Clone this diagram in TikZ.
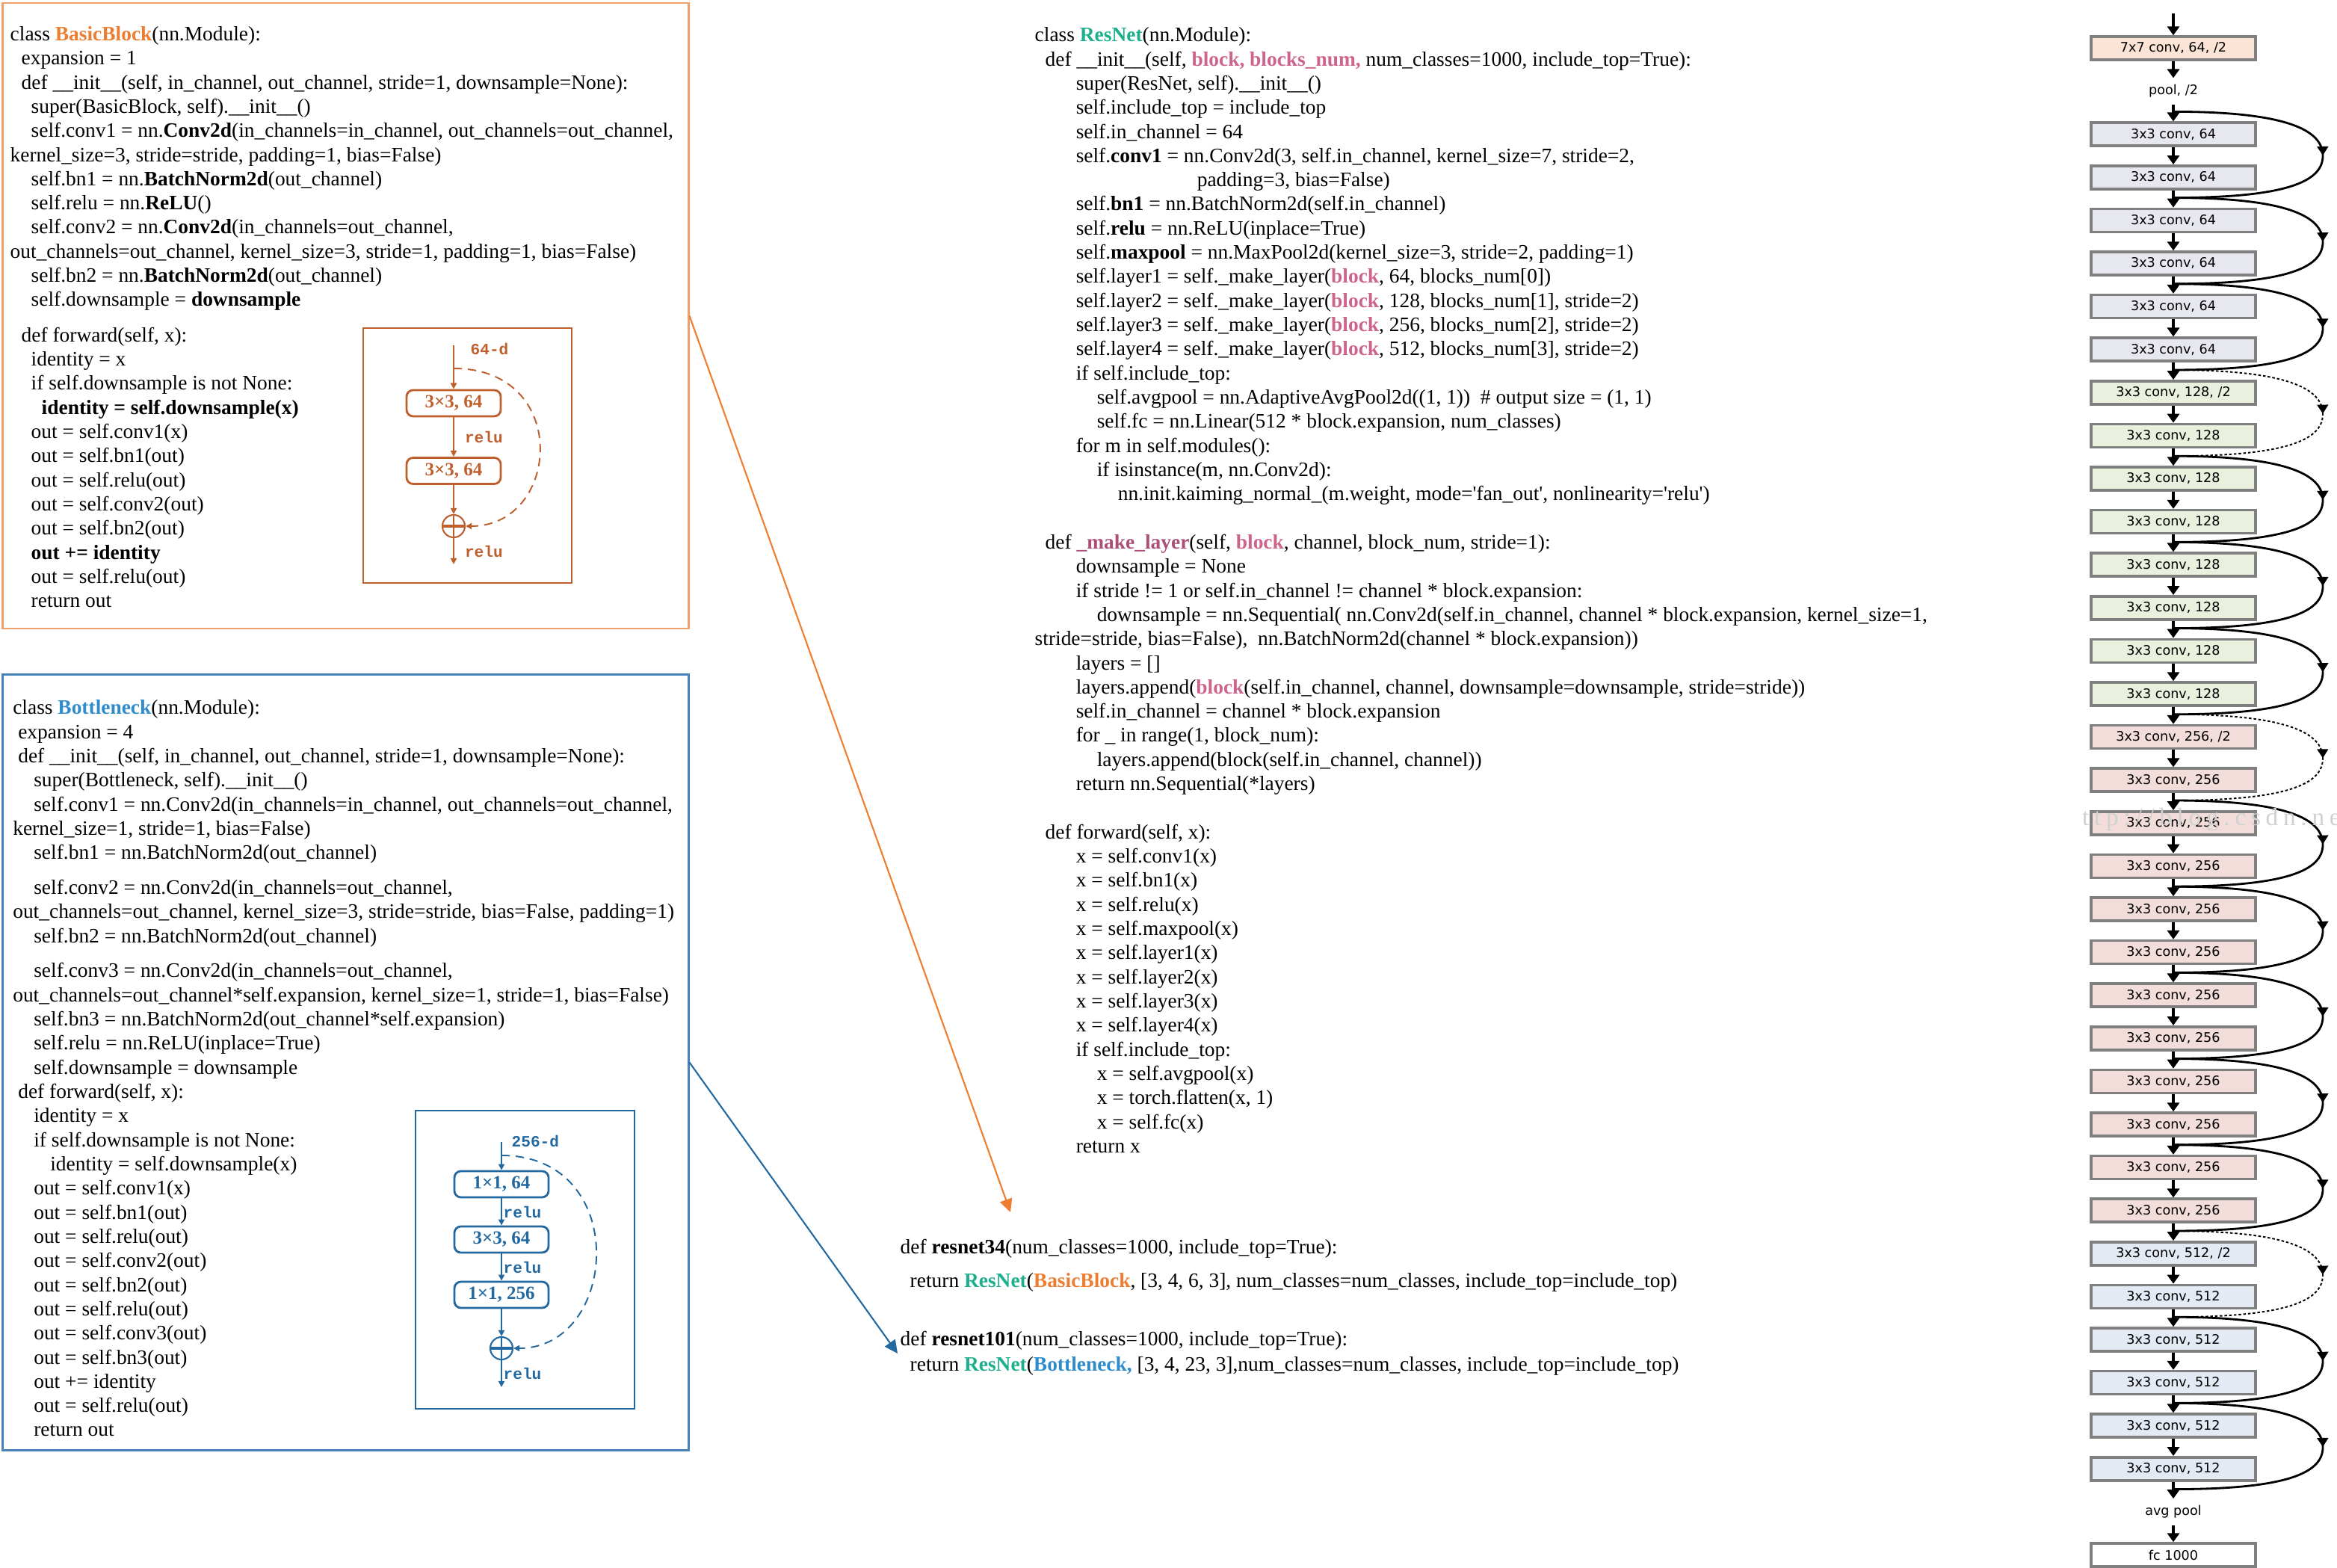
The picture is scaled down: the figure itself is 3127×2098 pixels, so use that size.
\documentclass[tikz,border=0pt]{standalone}
\usepackage{fontspec}
\setmainfont{Liberation Serif}
\newfontfamily\netfont{DejaVu Sans}
\newfontfamily\typefont{Liberation Mono}
\usetikzlibrary{arrows.meta,calc,decorations.markings}

\definecolor{bborange}{RGB}{237,125,49}
\definecolor{bbframe}{RGB}{242,160,105}
\definecolor{bbink}{RGB}{190,95,45}
\definecolor{bnblue}{RGB}{46,140,205}
\definecolor{bnframe}{RGB}{70,130,185}
\definecolor{bnink}{RGB}{35,105,160}
\definecolor{resteal}{RGB}{30,175,140}
\definecolor{blockpink}{RGB}{205,100,140}
\definecolor{makepink}{RGB}{170,80,120}
\definecolor{netgray}{RGB}{128,128,128}
\definecolor{fillA}{RGB}{251,228,213}
\definecolor{fillB}{RGB}{231,231,239}
\definecolor{fillC}{RGB}{233,240,222}
\definecolor{fillD}{RGB}{242,221,219}
\definecolor{fillE}{RGB}{227,234,243}

\newlength{\pxu}\setlength{\pxu}{0.1mm}
\newcommand{\ind}[1]{\hspace*{#1\pxu}}
\newcommand{\pk}[1]{\textcolor{blockpink}{\textbf{#1}}}
\newcommand{\codesize}{\fontsize{7.8pt}{9.19pt}\selectfont}
\newcommand{\netsize}{\netfont\fontsize{5pt}{6pt}\selectfont}

\tikzset{
  code/.style={font=\codesize, align=left, anchor=north west, inner sep=0pt},
  flat/.style={font=\codesize, anchor=base west, inner sep=0pt},
  panel/.style={line width=0.7pt, inner sep=0pt},
  layerbox/.style={draw=netgray, line width=1pt, minimum width=220\pxu, minimum height=31\pxu, inner sep=0pt, font=\netsize},
  layertext/.style={minimum height=34\pxu, inner sep=0pt, font=\netsize},
  flow/.style={line width=0.9pt, -{Triangle[length=3.4pt,width=4.6pt]}},
  skip/.style={line width=0.8pt, postaction={decorate},
    decoration={markings, mark=at position 0.5 with {\arrow{Triangle[length=3.4pt,width=4.2pt]}}}},
  skipdash/.style={skip, line width=0.55pt, dash pattern=on 1pt off 0.8pt},
  conv/.style={draw, rounded corners=2.5pt, line width=0.8pt, minimum width=126\pxu, minimum height=35\pxu, inner sep=0pt, font=\bfseries\fontsize{7.1pt}{8pt}\selectfont},
  sum/.style={draw, circle, line width=0.6pt, minimum size=30\pxu, inner sep=0pt},
  tag/.style={anchor=west, inner sep=0pt, font=\typefont\bfseries\fontsize{6pt}{7pt}\selectfont},
  pointer/.style={line width=0.6pt, -{Triangle[length=5pt,width=4.8pt]}},
}

\begin{document}
\begin{tikzpicture}[x=0.01cm, y=-0.01cm]
\useasboundingbox (0,0) rectangle (3127,2098);

% panels
\node[panel, draw=bbframe, minimum width=917\pxu, minimum height=837\pxu] (basicframe) at (462.5,422.5) {};
\node[panel, draw=bnframe, minimum width=917\pxu, minimum height=1037\pxu] (bottleframe) at (462.5,1421.5) {};

% BasicBlock code
\node[code] (basiccode) at (13,34.7) {%
class \textcolor{bborange}{\textbf{BasicBlock}}(nn.Module):\\
\ind{15}expansion = 1\\
\ind{15}def \_\_init\_\_(self, in\_channel, out\_channel, stride=1, downsample=None):\\
\ind{28}super(BasicBlock, self).\_\_init\_\_()\\
\ind{28}self.conv1 = nn.\textbf{Conv2d}(in\_channels=in\_channel, out\_channels=out\_channel,\\
kernel\_size=3, stride=stride, padding=1, bias=False)\\
\ind{28}self.bn1 = nn.\textbf{BatchNorm2d}(out\_channel)\\
\ind{28}self.relu = nn.\textbf{ReLU}()\\
\ind{28}self.conv2 = nn.\textbf{Conv2d}(in\_channels=out\_channel,\\
out\_channels=out\_channel, kernel\_size=3, stride=1, padding=1, bias=False)\\
\ind{28}self.bn2 = nn.\textbf{BatchNorm2d}(out\_channel)\\
\ind{28}self.downsample = \textbf{downsample}\\[15\pxu]
\ind{15}def forward(self, x):\\
\ind{28}identity = x\\
\ind{28}if self.downsample is not None:\\
\ind{42}\textbf{identity = self.downsample(x)}\\
\ind{28}out = self.conv1(x)\\
\ind{28}out = self.bn1(out)\\
\ind{28}out = self.relu(out)\\
\ind{28}out = self.conv2(out)\\
\ind{28}out = self.bn2(out)\\
\ind{28}\textbf{out += identity}\\
\ind{28}out = self.relu(out)\\
\ind{28}return out};

% BasicBlock sketch
\draw[bbink, line width=0.8pt] (486,439) rectangle (765,780);
\begin{scope}[bbink]
\coordinate (bin) at (607,462);
\coordinate (bsplit) at (607,493);
\coordinate (bout) at (607,755);
\node[conv, text=bbink] (bc1) at (607,539.5) {3×3, 64};
\node[conv, text=bbink] (bc2) at (607,630) {3×3, 64};
\node[sum] (bsum) at (607,704) {};
\node[tag, text=bbink] (bdim) at (629,467) {64-d};
\draw[line width=0.55pt, -{Triangle[length=2.3pt,width=2.3pt]}] (bin) -- (bc1);
\draw[line width=0.55pt, -{Triangle[length=2.3pt,width=2.3pt]}] (bc1) -- node[tag, text=bbink, xshift=4pt] (brelu1) {relu} (bc2);
\draw[line width=0.55pt, -{Triangle[length=2.3pt,width=2.3pt]}] (bc2) -- (bsum);
\draw[line width=0.55pt, -{Triangle[length=2.3pt,width=2.3pt]}] (bsum) -- node[tag, text=bbink, xshift=4pt] (brelu2) {relu} (bout);
\draw[line width=0.55pt, dash pattern=on 3.2pt off 2.2pt, -{Triangle[length=2.3pt,width=2.3pt]}] (bsplit) .. controls (765,493) and (750,704) .. (bsum.east);
\draw[line width=1.2pt] (bsum.west) -- (bsum.east);
\draw[line width=0.7pt] (bsum.north) -- (bsum.south);
\end{scope}

% Bottleneck code
\node[code] (bottlecode) at (16.6,936) {%
class \textcolor{bnblue}{\textbf{Bottleneck}}(nn.Module):\\
\ind{7}expansion = 4\\
\ind{7}def \_\_init\_\_(self, in\_channel, out\_channel, stride=1, downsample=None):\\
\ind{28}super(Bottleneck, self).\_\_init\_\_()\\
\ind{28}self.conv1 = nn.Conv2d(in\_channels=in\_channel, out\_channels=out\_channel,\\
kernel\_size=1, stride=1, bias=False)\\
\ind{28}self.bn1 = nn.BatchNorm2d(out\_channel)\\[14.5\pxu]
\ind{28}self.conv2 = nn.Conv2d(in\_channels=out\_channel,\\
out\_channels=out\_channel, kernel\_size=3, stride=stride, bias=False, padding=1)\\
\ind{28}self.bn2 = nn.BatchNorm2d(out\_channel)\\[14.5\pxu]
\ind{28}self.conv3 = nn.Conv2d(in\_channels=out\_channel,\\
out\_channels=out\_channel*self.expansion, kernel\_size=1, stride=1, bias=False)\\
\ind{28}self.bn3 = nn.BatchNorm2d(out\_channel*self.expansion)\\
\ind{28}self.relu = nn.ReLU(inplace=True)\\
\ind{28}self.downsample = downsample\\
\ind{7}def forward(self, x):\\
\ind{28}identity = x\\
\ind{28}if self.downsample is not None:\\
\ind{50}identity = self.downsample(x)\\
\ind{28}out = self.conv1(x)\\
\ind{28}out = self.bn1(out)\\
\ind{28}out = self.relu(out)\\
\ind{28}out = self.conv2(out)\\
\ind{28}out = self.bn2(out)\\
\ind{28}out = self.relu(out)\\
\ind{28}out = self.conv3(out)\\
\ind{28}out = self.bn3(out)\\
\ind{28}out += identity\\
\ind{28}out = self.relu(out)\\
\ind{28}return out};

% Bottleneck sketch
\draw[bnink, line width=0.8pt] (556,1486) rectangle (849,1885);
\begin{scope}[bnink]
\coordinate (tin) at (671,1528);
\coordinate (tsplit) at (671,1546);
\coordinate (tout) at (671,1856);
\node[conv, text=bnink] (tc1) at (671,1584.5) {1×1, 64};
\node[conv, text=bnink] (tc2) at (671,1658.5) {3×3, 64};
\node[conv, text=bnink] (tc3) at (671,1732.5) {1×1, 256};
\node[sum] (tsum) at (671,1804) {};
\node[tag, text=bnink] (tdim) at (684,1527) {256-d};
\draw[line width=0.55pt, -{Triangle[length=2.3pt,width=2.3pt]}] (tin) -- (tc1);
\draw[line width=0.55pt, -{Triangle[length=2.3pt,width=2.3pt]}] (tc1) -- node[tag, text=bnink, xshift=0.5pt] (trelu1) {relu} (tc2);
\draw[line width=0.55pt, -{Triangle[length=2.3pt,width=2.3pt]}] (tc2) -- node[tag, text=bnink, xshift=0.5pt] (trelu2) {relu} (tc3);
\draw[line width=0.55pt, -{Triangle[length=2.3pt,width=2.3pt]}] (tc3) -- (tsum);
\draw[line width=0.55pt, -{Triangle[length=2.3pt,width=2.3pt]}] (tsum) -- node[tag, text=bnink, xshift=0.5pt] (trelu3) {relu} (tout);
\draw[line width=0.55pt, dash pattern=on 3.2pt off 2.2pt, -{Triangle[length=2.3pt,width=2.3pt]}] (tsplit) .. controls (845,1546) and (828,1804) .. (tsum.east);
\draw[line width=1.2pt] (tsum.west) -- (tsum.east);
\draw[line width=0.7pt] (tsum.north) -- (tsum.south);
\end{scope}

% ResNet code
\node[code] (resnetcode) at (1384,36) {%
class \textcolor{resteal}{\textbf{ResNet}}(nn.Module):\\
\ind{14}def \_\_init\_\_(self, \pk{block, blocks\_num,} num\_classes=1000, include\_top=True):\\
\ind{55}super(ResNet, self).\_\_init\_\_()\\
\ind{55}self.include\_top = include\_top\\
\ind{55}self.in\_channel = 64\\
\ind{55}self.\textbf{conv1} = nn.Conv2d(3, self.in\_channel, kernel\_size=7, stride=2,\\
\ind{217}padding=3, bias=False)\\
\ind{55}self.\textbf{bn1} = nn.BatchNorm2d(self.in\_channel)\\
\ind{55}self.\textbf{relu} = nn.ReLU(inplace=True)\\
\ind{55}self.\textbf{maxpool} = nn.MaxPool2d(kernel\_size=3, stride=2, padding=1)\\
\ind{55}self.layer1 = self.\_make\_layer(\pk{block}, 64, blocks\_num[0])\\
\ind{55}self.layer2 = self.\_make\_layer(\pk{block}, 128, blocks\_num[1], stride=2)\\
\ind{55}self.layer3 = self.\_make\_layer(\pk{block}, 256, blocks\_num[2], stride=2)\\
\ind{55}self.layer4 = self.\_make\_layer(\pk{block}, 512, blocks\_num[3], stride=2)\\
\ind{55}if self.include\_top:\\
\ind{83}self.avgpool = nn.AdaptiveAvgPool2d((1, 1))\ \ \# output size = (1, 1)\\
\ind{83}self.fc = nn.Linear(512 * block.expansion, num\_classes)\\
\ind{55}for m in self.modules():\\
\ind{83}if isinstance(m, nn.Conv2d):\\
\ind{111}nn.init.kaiming\_normal\_(m.weight, mode=\textquotesingle fan\_out\textquotesingle, nonlinearity=\textquotesingle relu\textquotesingle)\\[32.3\pxu]
\ind{14}def \textcolor{makepink}{\textbf{\_make\_layer}}(self, \pk{block}, channel, block\_num, stride=1):\\
\ind{55}downsample = None\\
\ind{55}if stride != 1 or self.in\_channel != channel * block.expansion:\\
\ind{83}downsample = nn.Sequential( nn.Conv2d(self.in\_channel, channel * block.expansion, kernel\_size=1,\\
stride=stride, bias=False),\ \ nn.BatchNorm2d(channel * block.expansion))\\
\ind{55}layers = []\\
\ind{55}layers.append(\pk{block}(self.in\_channel, channel, downsample=downsample, stride=stride))\\
\ind{55}self.in\_channel = channel * block.expansion\\
\ind{55}for \_ in range(1, block\_num):\\
\ind{83}layers.append(block(self.in\_channel, channel))\\
\ind{55}return nn.Sequential(*layers)\\[32.3\pxu]
\ind{14}def forward(self, x):\\
\ind{55}x = self.conv1(x)\\
\ind{55}x = self.bn1(x)\\
\ind{55}x = self.relu(x)\\
\ind{55}x = self.maxpool(x)\\
\ind{55}x = self.layer1(x)\\
\ind{55}x = self.layer2(x)\\
\ind{55}x = self.layer3(x)\\
\ind{55}x = self.layer4(x)\\
\ind{55}if self.include\_top:\\
\ind{83}x = self.avgpool(x)\\
\ind{83}x = torch.flatten(x, 1)\\
\ind{83}x = self.fc(x)\\
\ind{55}return x};

% factory functions
\node[flat] (r34def) at (1204,1677) {def \textbf{resnet34}(num\_classes=1000, include\_top=True):};
\node[flat] (r34ret) at (1217,1722) {return \textcolor{resteal}{\textbf{ResNet}}(\textcolor{bborange}{\textbf{BasicBlock}}, [3, 4, 6, 3], num\_classes=num\_classes, include\_top=include\_top)};
\node[flat] (r101def) at (1204,1800) {def \textbf{resnet101}(num\_classes=1000, include\_top=True):};
\node[flat] (r101ret) at (1217,1834) {return \textcolor{resteal}{\textbf{ResNet}}(\textcolor{bnblue}{\textbf{Bottleneck,}} [3, 4, 23, 3],num\_classes=num\_classes, include\_top=include\_top)};

\coordinate (r34tip) at (1352,1622);
\coordinate (r101tip) at (1201,1811);
\draw[pointer, bborange] (basicframe.east) -- (r34tip);
\draw[pointer, bnink] (bottleframe.east) -- (r101tip);

% ResNet-34 column
\coordinate (input) at (2908,18);
\node[layerbox, fill=fillA] (n0) at (2908,64.5) {7x7 conv, 64, /2};
\node[layertext] (n1) at (2908,122.1) {pool, /2};
\foreach \i in {2,...,7}
  \node[layerbox, fill=fillB] (n\i) at (2908,{64.5+57.6*\i}) {3x3 conv, 64};
\node[layerbox, fill=fillC] (n8) at (2908,525.3) {3x3 conv, 128, /2};
\foreach \i in {9,...,15}
  \node[layerbox, fill=fillC] (n\i) at (2908,{64.5+57.6*\i}) {3x3 conv, 128};
\node[layerbox, fill=fillD] (n16) at (2908,986.1) {3x3 conv, 256, /2};
\foreach \i in {17,...,27}
  \node[layerbox, fill=fillD] (n\i) at (2908,{64.5+57.6*\i}) {3x3 conv, 256};
\node[layerbox, fill=fillE] (n28) at (2908,1677.3) {3x3 conv, 512, /2};
\foreach \i in {29,...,33}
  \node[layerbox, fill=fillE] (n\i) at (2908,{64.5+57.6*\i}) {3x3 conv, 512};
\node[layertext] (n34) at (2908,2022.9) {avg pool};
\node[layerbox, fill=white] (n35) at (2908,2080.5) {fc 1000};

\draw[flow] (input) -- (n0);
\foreach \i [evaluate=\i as \j using int(\i+1)] in {0,...,34}
  \draw[flow] (n\i) -- (n\j);

% shortcuts
\foreach \a in {2,4,6,10,12,14,18,20,22,24,26,30,32} {
  \pgfmathtruncatemacro{\b}{\a+1}
  \draw[skip] ([yshift=3.7pt]n\a.north) .. controls +(150,0) and +(0,-35) .. ($(n\a.south)!0.5!(n\b.north)+(200,0)$)
    .. controls +(0,35) and +(150,0) .. ([yshift=-2.85pt]n\b.south);
}
\foreach \a in {8,16,28} {
  \pgfmathtruncatemacro{\b}{\a+1}
  \draw[skipdash] ([yshift=3.7pt]n\a.north) .. controls +(150,0) and +(0,-35) .. ($(n\a.south)!0.5!(n\b.north)+(200,0)$)
    .. controls +(0,35) and +(150,0) .. ([yshift=-2.85pt]n\b.south);
}

% watermark
\begin{scope}
\clip (2780,0) rectangle (3127,2098);
\node[anchor=base west, inner sep=0pt, text=black!18, font=\fontsize{9.5pt}{10pt}\selectfont\addfontfeature{LetterSpace=20}] (mark) at (2762,1104) {http://blog.csdn.net};
\end{scope}
\end{tikzpicture}
\end{document}
